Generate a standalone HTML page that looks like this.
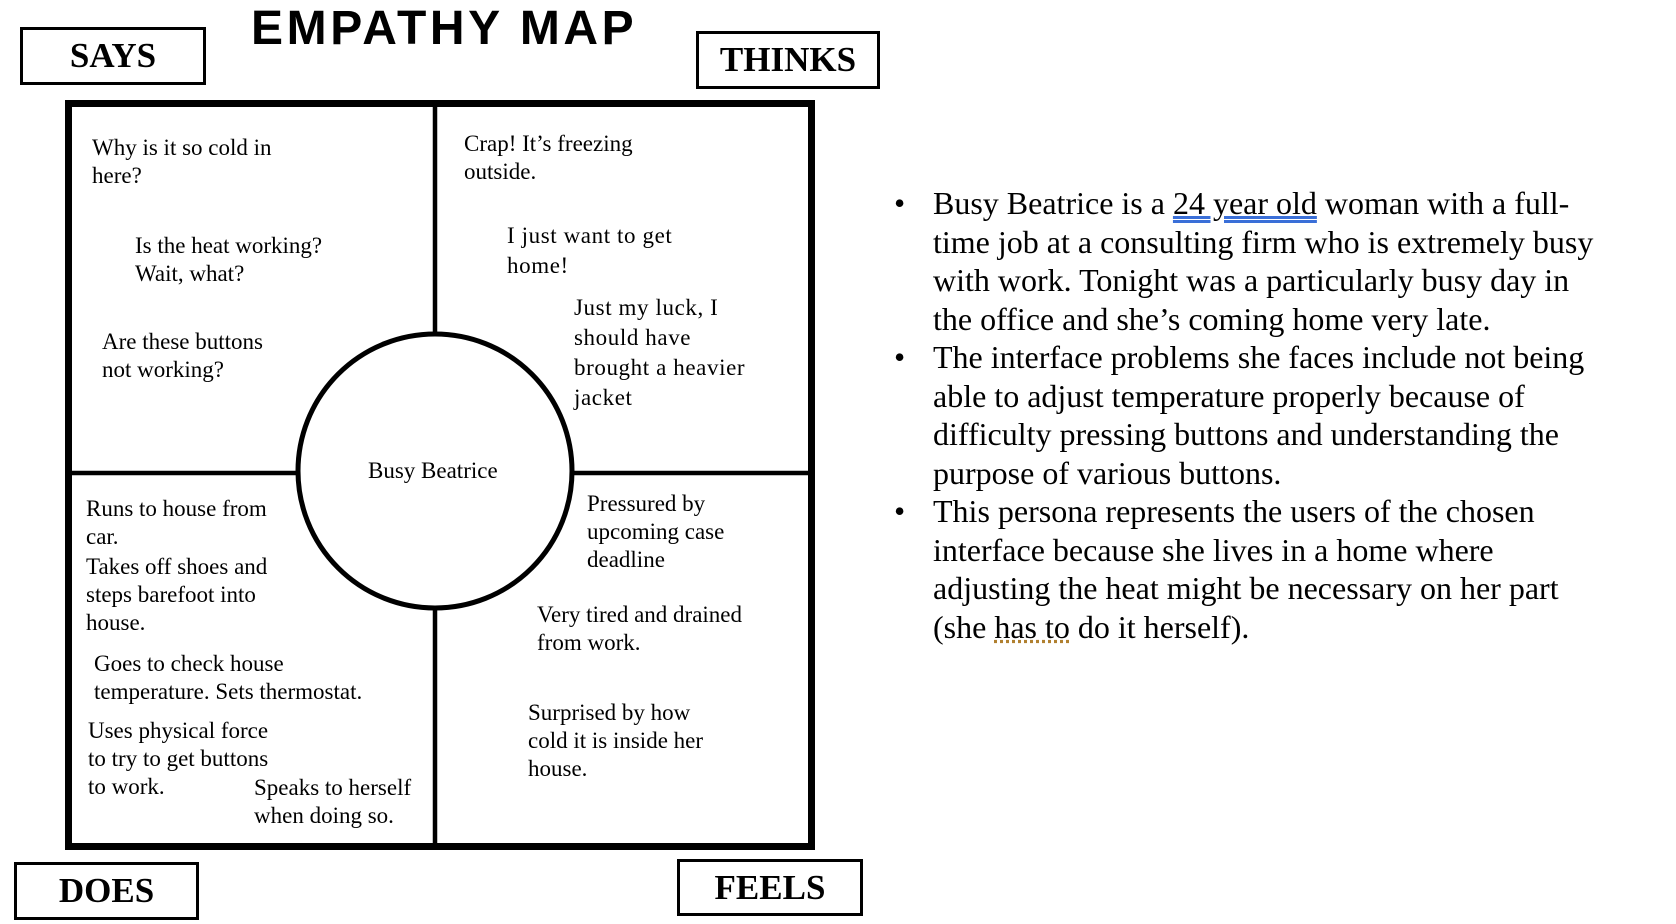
<!DOCTYPE html>
<html><head><meta charset="utf-8"><style>
html,body{margin:0;padding:0;background:#fff;}
body{width:1676px;height:924px;position:relative;overflow:hidden;font-family:"Liberation Serif",serif;color:#000;}
.lbl{position:absolute;border:3px solid #000;box-sizing:border-box;font-weight:bold;font-size:35px;display:flex;align-items:center;justify-content:center;}
.t{position:absolute;font-size:23px;line-height:28px;white-space:nowrap;}
.r{position:absolute;left:933px;font-size:32px;line-height:38.6px;white-space:nowrap;}
.b{position:absolute;left:894px;font-size:32px;line-height:38.6px;}
</style></head><body>
<div style="position:absolute;left:251px;top:1px;font-family:'Liberation Sans',sans-serif;font-weight:bold;font-size:48px;letter-spacing:3.6px;line-height:56px;white-space:nowrap;">EMPATHY MAP</div>
<div class="lbl" style="left:20px;top:27px;width:186px;height:58px;">SAYS</div>
<div class="lbl" style="left:696px;top:31px;width:184px;height:58px;">THINKS</div>
<div class="lbl" style="left:14px;top:862px;width:185px;height:58px;">DOES</div>
<div class="lbl" style="left:677px;top:859px;width:186px;height:57px;">FEELS</div>
<svg style="position:absolute;left:0;top:0" width="1676" height="924">
<rect x="68.5" y="103.5" width="743" height="743" fill="none" stroke="#000" stroke-width="7"/>
<line x1="435" y1="103" x2="435" y2="847" stroke="#000" stroke-width="4.5"/>
<line x1="68" y1="473" x2="812" y2="473" stroke="#000" stroke-width="4.5"/>
<circle cx="435" cy="471" r="137" fill="#fff" stroke="#000" stroke-width="5"/>
</svg>
<div class="t" style="left:92px;top:134px;">Why is it so cold in<br>here?</div>
<div class="t" style="left:135px;top:232px;">Is the heat working?<br>Wait, what?</div>
<div class="t" style="left:102px;top:328px;">Are these buttons<br>not working?</div>
<div class="t" style="left:464px;top:130px;">Crap! It’s freezing<br>outside.</div>
<div class="t" style="left:507px;top:221px;line-height:30px;letter-spacing:0.6px;">I just want to get<br>home!</div>
<div class="t" style="left:574px;top:293px;line-height:30px;letter-spacing:0.6px;">Just my luck, I<br>should have<br>brought a heavier<br>jacket</div>
<div class="t" style="left:368px;top:457px;">Busy Beatrice</div>
<div class="t" style="left:86px;top:495px;">Runs to house from<br>car.</div>
<div class="t" style="left:86px;top:553px;">Takes off shoes and<br>steps barefoot into<br>house.</div>
<div class="t" style="left:94px;top:650px;">Goes to check house<br>temperature. Sets thermostat.</div>
<div class="t" style="left:88px;top:717px;">Uses physical force<br>to try to get buttons<br>to work.</div>
<div class="t" style="left:254px;top:774px;">Speaks to herself<br>when doing so.</div>
<div class="t" style="left:587px;top:490px;">Pressured by<br>upcoming case<br>deadline</div>
<div class="t" style="left:537px;top:601px;">Very tired and drained<br>from work.</div>
<div class="t" style="left:528px;top:699px;">Surprised by how<br>cold it is inside her<br>house.</div>
<div class="b" style="top:184px;">•</div>
<div class="b" style="top:338px;">•</div>
<div class="b" style="top:492px;">•</div>
<div class="r" style="top:184px;">Busy Beatrice is a <span style="text-decoration:underline double #3a6fd8;">24 year old</span> woman with a full-<br>time job at a consulting firm who is extremely busy<br>with work. Tonight was a particularly busy day in<br>the office and she’s coming home very late.</div>
<div class="r" style="top:338px;">The interface problems she faces include not being<br>able to adjust temperature properly because of<br>difficulty pressing buttons and understanding the<br>purpose of various buttons.</div>
<div class="r" style="top:492px;">This persona represents the users of the chosen<br>interface because she lives in a home where<br>adjusting the heat might be necessary on her part<br>(she <span style="text-decoration:underline dotted #b08030;">has to</span> do it herself).</div>
</body></html>
